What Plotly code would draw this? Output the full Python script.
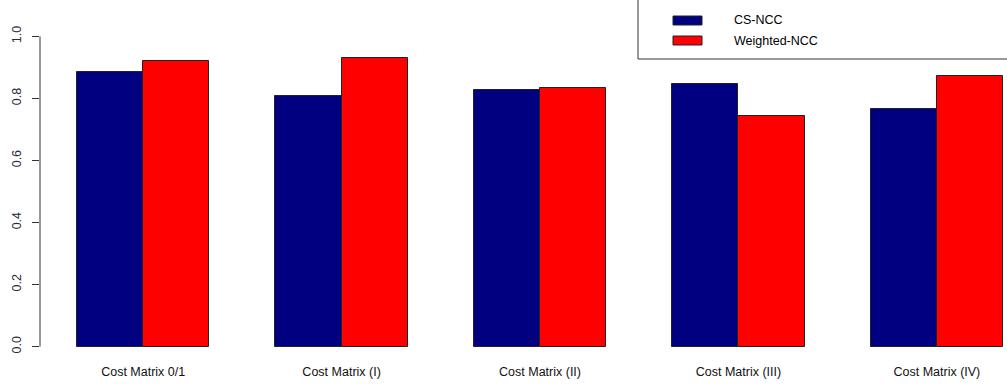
import plotly.graph_objects as go

categories = ["Cost Matrix 0/1", "Cost Matrix (I)", "Cost Matrix (II)",
              "Cost Matrix (III)", "Cost Matrix (IV)"]
series_names = ["CS-NCC", "Weighted-NCC"]
cs_ncc = [0.886, 0.807, 0.828, 0.846, 0.766]
weighted_ncc = [0.921, 0.931, 0.835, 0.745, 0.873]
y_ticks = [0.0, 0.2, 0.4, 0.6, 0.8, 1.0]
y_tick_labels = ["0.0", "0.2", "0.4", "0.6", "0.8", "1.0"]
colors = ["#000080", "#FF0000"]

W, H = 1007, 385
ML, MR, MT, MB = 40, 0, 24, 26
PW, PH = W - ML - MR, H - MT - MB


def px_x(p):
    return (p - ML) / PW


def px_y(p):
    return (H - MB - p) / PH


# side-by-side layout: each group = 2 bars of width 1 plus a 1-unit gap
group_start = [1 + 3 * i for i in range(len(categories))]
centers = [s + 1 for s in group_start]

fig = go.Figure()
for k, (name, vals) in enumerate(zip(series_names, [cs_ncc, weighted_ncc])):
    fig.add_trace(go.Bar(
        x=[s + 0.5 + k for s in group_start],
        y=vals,
        width=1,
        name=name,
        marker=dict(color=colors[k], line=dict(color="#222222", width=1)),
        showlegend=False,
    ))

# y axis line spanning 0..1 only
fig.add_shape(type="line", xref="paper", yref="y", x0=0, x1=0,
              y0=y_ticks[0], y1=y_ticks[-1],
              line=dict(color="#333333", width=1))

# legend box with swatches
fig.add_shape(type="rect", xref="paper", yref="paper",
              x0=px_x(638), x1=px_x(1012), y0=px_y(59), y1=px_y(-2),
              line=dict(color="#333333", width=1), fillcolor="white",
              layer="below")
for k, name in enumerate(series_names):
    top = 16 + k * 20
    fig.add_shape(type="rect", xref="paper", yref="paper",
                  x0=px_x(673), x1=px_x(702), y0=px_y(top + 9), y1=px_y(top),
                  line=dict(color="#222222", width=1), fillcolor=colors[k])
    fig.add_annotation(xref="paper", yref="paper", x=px_x(732),
                       y=px_y(top + 4.5), text=name, showarrow=False,
                       xanchor="left", yanchor="middle",
                       font=dict(family="Liberation Sans, Arial", size=12.5,
                                 color="#000000"))

fig.update_layout(
    width=W, height=H,
    margin=dict(l=ML, r=MR, t=MT, b=MB, pad=0),
    paper_bgcolor="white", plot_bgcolor="white",
    bargap=0,
    font=dict(family="Liberation Sans, Arial", size=12, color="#000000"),
    xaxis=dict(range=[0.44, 0.44 + PW / 66.14], tickvals=centers,
               ticktext=categories, showgrid=False, zeroline=False,
               showline=False, ticks="", ticklabelstandoff=3,
               tickfont=dict(size=12.5, color="#111111")),
    yaxis=dict(range=[-0.04, 1.04], tickvals=y_ticks, ticktext=y_tick_labels,
               showgrid=False, zeroline=False, showline=False,
               ticks="outside", ticklen=7, tickcolor="#333333",
               tickangle=-90, ticklabelstandoff=6,
               tickfont=dict(size=12.5, color="#2a2a3a")),
)

fig.write_html("out.html")
